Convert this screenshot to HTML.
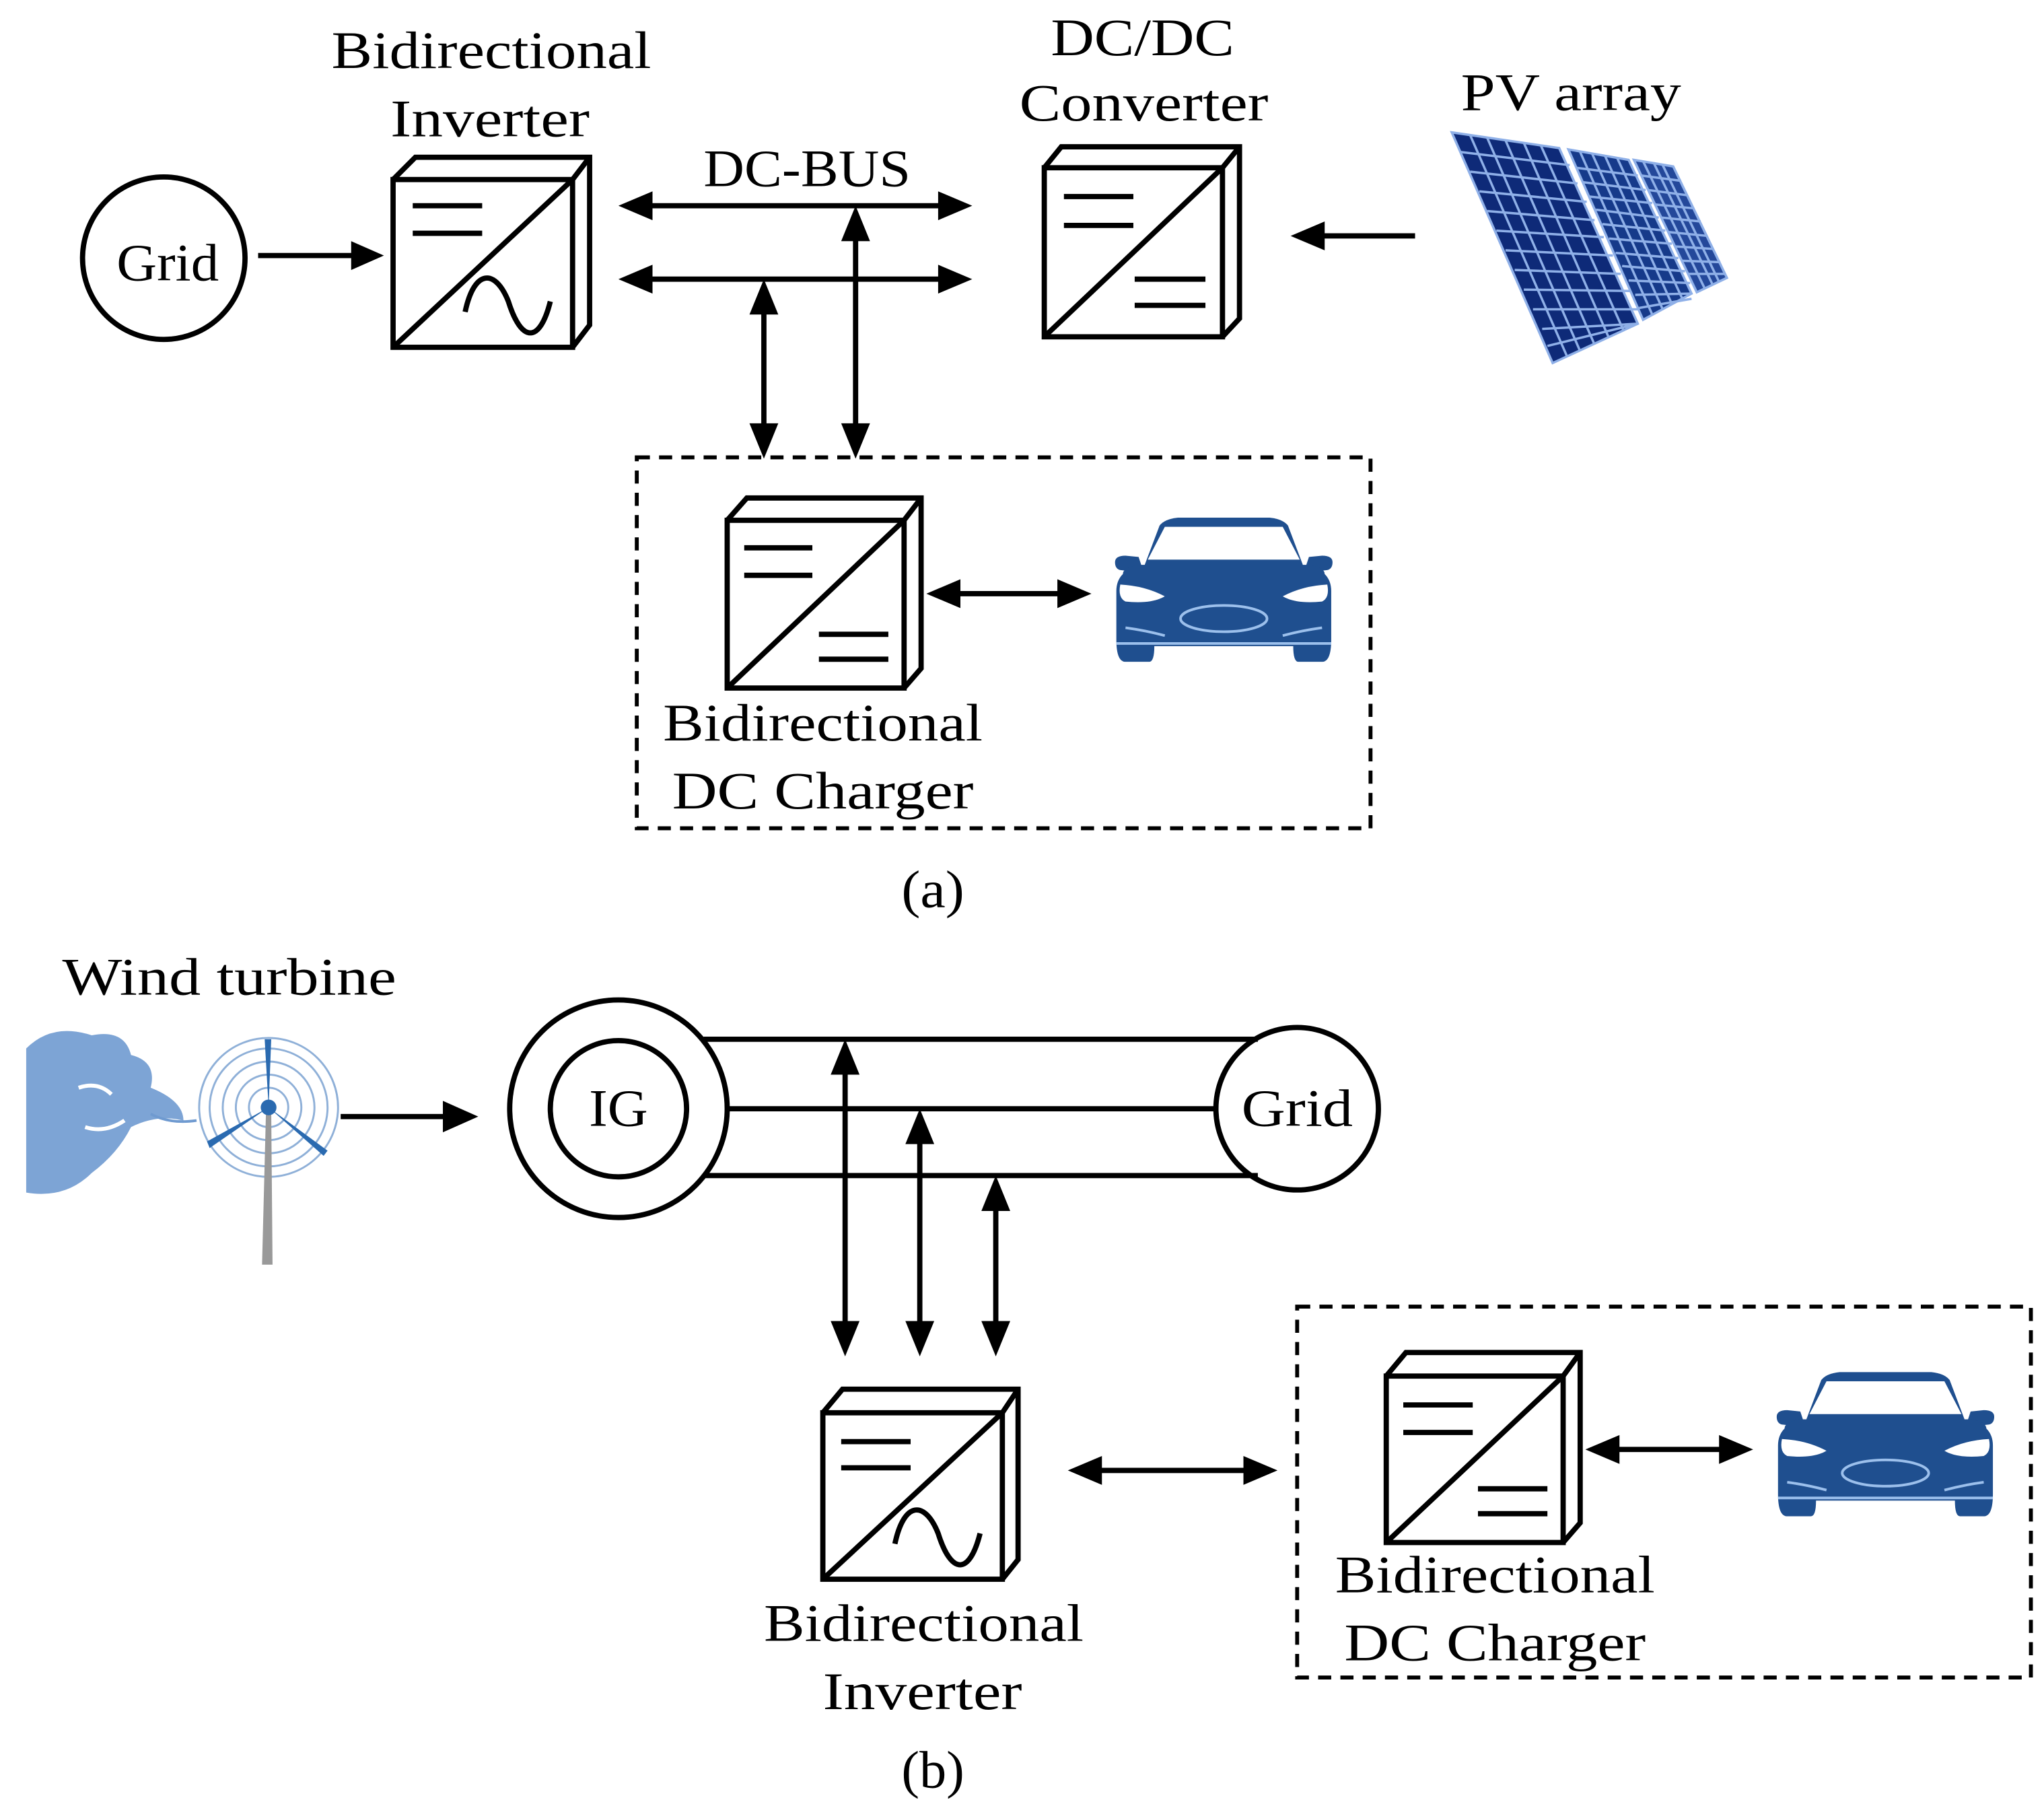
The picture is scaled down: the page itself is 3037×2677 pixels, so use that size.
<!DOCTYPE html>
<html><head><meta charset="utf-8"><style>
html,body{margin:0;padding:0;background:#fff;}
svg{display:block}
text{font-family:"Liberation Serif",serif;font-size:40px;fill:#000;text-anchor:middle;}
</style></head><body>
<svg width="3037" height="2677" viewBox="0 0 1560 1375" preserveAspectRatio="none" xmlns="http://www.w3.org/2000/svg">
<defs>
<symbol id="car" viewBox="0 0 170 112">
<path d="M22 45 L36 8 Q40 3 50 2 L120 2 Q130 3 134 8 L148 45 Z" fill="#1f4f8f"/>
<path d="M40 9 L130 9 L143 34 L27 34 Z" fill="#fff"/>
<path d="M2 36 Q2 31 10 31 L20 32 L24 44 L6 42 Q2 41 2 36Z M168 36 Q168 31 160 31 L150 32 L146 44 L164 42 Q168 41 168 36Z" fill="#1f4f8f"/>
<path d="M8 45 Q8 40 20 38 L150 38 Q162 40 162 45 Q167 50 167 58 L167 95 Q167 112 160 112 L142 112 Q138 112 138 100 L32 100 Q32 112 28 112 L10 112 Q3 112 3 95 L3 58 Q3 50 8 45Z" fill="#1f4f8f"/>
<path d="M6 53 Q25 54 40 62 Q30 68 10 66 Q4 63 6 53Z M164 53 Q145 54 130 62 Q140 68 160 66 Q166 63 164 53Z" fill="#fff"/>
<ellipse cx="85" cy="79" rx="33" ry="10" fill="none" stroke="#9cc0ec" stroke-width="2"/>
<path d="M10 86 Q25 88 40 92 M160 86 Q145 88 130 92 M3 98 H167" stroke="#9cc0ec" stroke-width="2" fill="none"/>
</symbol>
</defs>
<g stroke="#000" stroke-width="4" fill="none">
<circle cx="125" cy="197" r="62"/>
<rect x="300" y="137" width="137" height="128"/>
<path d="M300 137 L317 120 L450 120 L450 248 L437 265 M437 137 L450 120 M300 265 L437 137"/>
<path d="M315 157 H368 M315 178 H368"/>
<path d="M355 238 C362 205 378 205 388 230 C398 262 412 262 420 230"/>
<rect x="797" y="128" width="136" height="129"/>
<path d="M797 128 L810 112 L946 112 L946 243 L933 257 M933 128 L946 112 M797 257 L933 128"/>
<path d="M812 150 H865 M812 172 H865 M866 213 H920 M866 233 H920"/>
<path d="M197 195 H270 M495 157 H720 M495 213 H720 M583 238 V325 M653 182 V325 M1080 180 H1008"/>
<rect x="486" y="349" width="560" height="283" stroke-dasharray="10 7" stroke-width="3"/>
<rect x="555" y="397" width="135" height="128"/>
<path d="M555 397 L570 380 L703 380 L703 510 L690 525 M690 397 L703 380 M555 525 L690 397"/>
<path d="M568 418 H620 M568 439 H620 M625 484 H678 M625 503 H678"/>
<path d="M730 453 H810"/>
<circle cx="472" cy="846" r="83"/>
<circle cx="472" cy="846" r="52"/>
<circle cx="990" cy="846" r="62"/>
<path d="M537 793 H960 M555 846 H930 M537 897 H960"/>
<path d="M260 852 H340 M645 818 V1010 M702 870 V1010 M760 922 V1010"/>
<rect x="628" y="1078" width="137" height="127"/>
<path d="M628 1078 L643 1060 L777 1060 L777 1190 L765 1205 M765 1078 L777 1060 M628 1205 L765 1078"/>
<path d="M642 1100 H695 M642 1120 H695"/>
<path d="M683 1178 C690 1145 706 1145 716 1170 C726 1202 740 1202 748 1170"/>
<path d="M838 1122 H952"/>
<rect x="990" y="997" width="560" height="283" stroke-dasharray="10 7" stroke-width="3"/>
<rect x="1058" y="1050" width="135" height="127"/>
<path d="M1058 1050 L1073 1032 L1206 1032 L1206 1162 L1193 1177 M1193 1050 L1206 1032 M1058 1177 L1193 1050"/>
<path d="M1071 1072 H1124 M1071 1093 H1124 M1128 1136 H1181 M1128 1155 H1181"/>
<path d="M1233 1106 H1315"/>
</g>
<g fill="#000">
<path d="M293 195 L268 184 L268 206Z"/>
<path d="M472 157 L498 146 L498 168Z M742 157 L716 146 L716 168Z"/>
<path d="M472 213 L498 202 L498 224Z M742 213 L716 202 L716 224Z"/>
<path d="M583 213 L572 240 L594 240Z M583 350 L572 323 L594 323Z"/>
<path d="M653 157 L642 184 L664 184Z M653 350 L642 323 L664 323Z"/>
<path d="M985 180 L1011 169 L1011 191Z"/>
<path d="M707 453 L733 442 L733 464Z M833 453 L807 442 L807 464Z"/>
<path d="M365 852 L338 840 L338 864Z"/>
<path d="M645 793 L634 820 L656 820Z M645 1035 L634 1008 L656 1008Z"/>
<path d="M702 846 L691 873 L713 873Z M702 1035 L691 1008 L713 1008Z"/>
<path d="M760 897 L749 924 L771 924Z M760 1035 L749 1008 L771 1008Z"/>
<path d="M815 1122 L841 1111 L841 1133Z M975 1122 L949 1111 L949 1133Z"/>
<path d="M1210 1106 L1236 1095 L1236 1117Z M1338 1106 L1312 1095 L1312 1117Z"/>
</g>
<!-- PV array -->
<g stroke="#8fb0e8" stroke-width="1.8">
<polygon points="1108,101 1190,113 1250,247 1185,277" fill="#0e2a78"/>
<polygon points="1197,114 1243,122 1291,224 1254,244" fill="#163a8a"/>
<polygon points="1247,122 1277,127 1318,212 1295,223" fill="#24489a"/>
<path d="M1122 103 L1196 272 M1135 105 L1206 268 M1149 107 L1217 263 M1163 109 L1228 258 M1176 111 L1239 252"/>
<path d="M1206 116 L1261 240 M1215 117 L1269 236 M1225 119 L1276 232 M1234 120 L1284 228"/>
<path d="M1254 123 L1301 220 M1262 124 L1307 217 M1269 126 L1312 215"/>
<path d="M1115 116 L1198 126 M1122 131 L1204 140 M1129 146 L1211 154 M1135 161 L1217 168 M1142 176 L1224 181 M1149 191 L1231 195 M1156 206 L1237 209 M1163 221 L1244 222 M1170 236 L1250 236 M1177 251 L1250 247 M1181 264 L1250 247"/>
<path d="M1203 128 L1250 134 M1208 139 L1256 145 M1213 150 L1261 155 M1218 160 L1266 166 M1223 171 L1271 176 M1228 182 L1276 186 M1233 193 L1281 197 M1238 203 L1286 207 M1243 214 L1290 216 M1248 225 L1291 224 M1251 235 L1291 228"/>
<path d="M1253 134 L1283 138 M1258 145 L1288 149 M1263 156 L1293 159 M1268 166 L1298 169 M1273 177 L1303 180 M1278 188 L1308 190 M1283 199 L1313 200 M1288 209 L1317 209"/>
</g>
<use href="#car" x="849" y="393" width="170" height="112"/>
<use href="#car" x="1354" y="1045" width="170" height="112"/>
<!-- wind face -->
<g fill="#6f9ad0" opacity="0.9">
<path d="M20 800 Q40 780 70 790 Q95 785 100 805 Q120 810 115 830 Q140 840 140 855 Q120 850 100 860 Q90 880 70 895 Q50 915 20 910 Z"/>
</g>
<path d="M60 830 Q75 825 85 835 M65 860 Q80 865 95 855" stroke="#fff" stroke-width="3" fill="none"/>
<path d="M115 850 Q130 858 150 855" stroke="#6f9ad0" stroke-width="2" fill="none"/>
<g stroke="#8fb0d8" fill="none" stroke-width="1.5">
<circle cx="205" cy="845" r="15"/><circle cx="205" cy="845" r="25"/><circle cx="205" cy="845" r="35"/><circle cx="205" cy="845" r="45"/><circle cx="205" cy="845" r="53"/>
</g>
<path d="M203 848 L200 965 L208 965 L207 848Z" fill="#999"/>
<path d="M205 845 L202 793 L207 793Z M205 845 L250 878 L247 882Z M205 845 L160 876 L158 871Z" fill="#2a6ab0"/>
<circle cx="205" cy="845" r="6" fill="#2a6ab0"/>
<text x="128" y="214" textLength="78" lengthAdjust="spacingAndGlyphs">Grid</text>
<text x="375" y="52" textLength="244" lengthAdjust="spacingAndGlyphs">Bidirectional</text>
<text x="374" y="104" textLength="152" lengthAdjust="spacingAndGlyphs">Inverter</text>
<text x="616" y="142" textLength="158" lengthAdjust="spacingAndGlyphs">DC-BUS</text>
<text x="872" y="42" textLength="140" lengthAdjust="spacingAndGlyphs">DC/DC</text>
<text x="873" y="92" textLength="190" lengthAdjust="spacingAndGlyphs">Converter</text>
<text x="1199" y="84" textLength="168" lengthAdjust="spacingAndGlyphs">PV array</text>
<text x="628" y="565" textLength="244" lengthAdjust="spacingAndGlyphs">Bidirectional</text>
<text x="628" y="617" textLength="230" lengthAdjust="spacingAndGlyphs">DC Charger</text>
<text x="712" y="692" textLength="48" lengthAdjust="spacingAndGlyphs">(a)</text>
<text x="175" y="759" textLength="255" lengthAdjust="spacingAndGlyphs">Wind turbine</text>
<text x="472" y="859" textLength="45" lengthAdjust="spacingAndGlyphs">IG</text>
<text x="990" y="859" textLength="85" lengthAdjust="spacingAndGlyphs">Grid</text>
<text x="705" y="1252" textLength="244" lengthAdjust="spacingAndGlyphs">Bidirectional</text>
<text x="704" y="1304" textLength="152" lengthAdjust="spacingAndGlyphs">Inverter</text>
<text x="1141" y="1215" textLength="244" lengthAdjust="spacingAndGlyphs">Bidirectional</text>
<text x="1141" y="1267" textLength="230" lengthAdjust="spacingAndGlyphs">DC Charger</text>
<text x="712" y="1364" textLength="48" lengthAdjust="spacingAndGlyphs">(b)</text>
</svg>
</body></html>
